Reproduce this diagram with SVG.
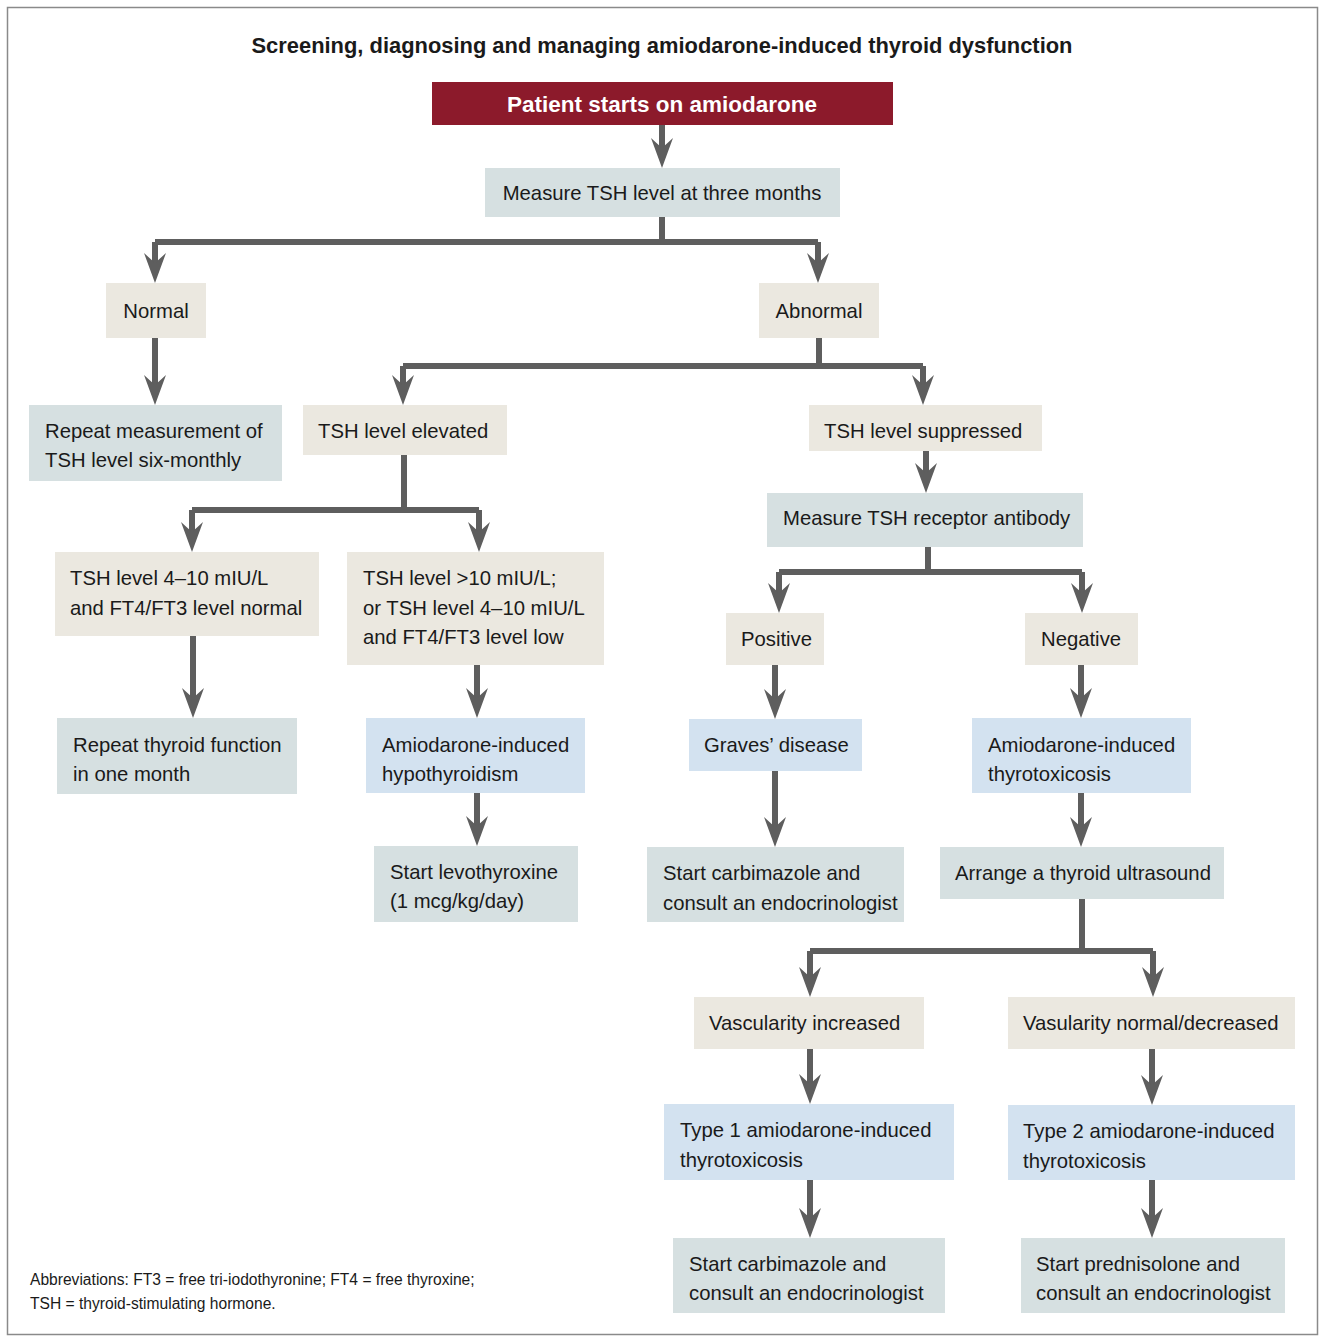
<svg xmlns="http://www.w3.org/2000/svg" width="1320" height="1336" viewBox="0 0 1320 1336">
<style>
text{font-family:"Liberation Sans",Arial,sans-serif;font-size:20.3px;fill:#1a1a1a}
.t{font-weight:bold;font-size:21.9px;text-anchor:middle}
.h{font-weight:bold;font-size:22.5px;fill:#fff;text-anchor:middle}
.c{text-anchor:middle}
.fn{font-size:15.6px}
.b{fill:#ebe8e0}
.g{fill:#d6e0e1}
.l{fill:#d3e2f0}
.r{fill:#8c1a2b}
.w{fill:none;stroke:#5e5e5e;stroke-width:6;marker-end:url(#ah)}
.n{fill:none;stroke:#5e5e5e;stroke-width:6}
</style>
<defs>
<marker id="ah" viewBox="0 0 30 22" refX="12" refY="11" markerWidth="30" markerHeight="22" markerUnits="userSpaceOnUse" orient="auto">
<path d="M0,0 L30,11 L0,22 L10,11 Z" fill="#5e5e5e"/>
</marker>
</defs>
<rect x="7.5" y="7.5" width="1310" height="1327" fill="#fff" stroke="#8a8a8a" stroke-width="1.5"/>
<text class="t" x="662" y="53">Screening, diagnosing and managing amiodarone-induced thyroid dysfunction</text>

<g id="connectors">
<path class="w" d="M662,125 V150"/>
<path class="n" d="M662,217 V242"/>
<path class="w" d="M155,242 H818 M155,242 V265"/>
<path class="w" d="M818,242 V265"/>
<path class="w" d="M155,338 V387"/>
<path class="n" d="M819,338 V366"/>
<path class="w" d="M403,366 H923 M403,366 V387"/>
<path class="w" d="M923,366 V387"/>
<path class="n" d="M404,455 V510"/>
<path class="w" d="M192,510 H479 M192,510 V534"/>
<path class="w" d="M479,510 V534"/>
<path class="w" d="M926,451 V475"/>
<path class="n" d="M928,547 V572"/>
<path class="w" d="M779,572 H1082 M779,572 V595"/>
<path class="w" d="M1082,572 V595"/>
<path class="w" d="M193,636 V700"/>
<path class="w" d="M477,665 V700"/>
<path class="w" d="M477,793 V828"/>
<path class="w" d="M775,665 V701"/>
<path class="w" d="M775,771 V829"/>
<path class="w" d="M1081,665 V700"/>
<path class="w" d="M1081,793 V829"/>
<path class="n" d="M1082,899 V951"/>
<path class="w" d="M810,951 H1153 M810,951 V979"/>
<path class="w" d="M1153,951 V979"/>
<path class="w" d="M810,1049 V1086"/>
<path class="w" d="M1152,1049 V1087"/>
<path class="w" d="M810,1180 V1220"/>
<path class="w" d="M1152,1180 V1220"/>
</g>

<g id="n-start"><rect class="r" x="432" y="82" width="461" height="43"/><text class="h" x="662" y="112">Patient starts on amiodarone</text></g>
<g id="n-measure3"><rect class="g" x="485" y="168" width="355" height="49"/><text class="c" x="662" y="200">Measure TSH level at three months</text></g>
<g id="n-normal"><rect class="b" x="106" y="283" width="100" height="55"/><text class="c" x="156" y="318">Normal</text></g>
<g id="n-abnormal"><rect class="b" x="759" y="283" width="120" height="55"/><text class="c" x="819" y="318">Abnormal</text></g>
<g id="n-repeat6"><rect class="g" x="29" y="405" width="253" height="76"/><text x="45" y="438">Repeat measurement of</text><text x="45" y="467">TSH level six-monthly</text></g>
<g id="n-elevated"><rect class="b" x="303" y="405" width="204" height="50"/><text x="318" y="438">TSH level elevated</text></g>
<g id="n-suppressed"><rect class="b" x="809" y="405" width="233" height="46"/><text x="824" y="438">TSH level suppressed</text></g>
<g id="n-antibody"><rect class="g" x="767" y="493" width="316" height="54"/><text x="783" y="525">Measure TSH receptor antibody</text></g>
<g id="n-tsh410"><rect class="b" x="55" y="552" width="264" height="84"/><text x="70" y="585">TSH level 4–10 mIU/L</text><text x="70" y="615">and FT4/FT3 level normal</text></g>
<g id="n-tsh10"><rect class="b" x="347" y="552" width="257" height="113"/><text x="363" y="585">TSH level &gt;10 mIU/L;</text><text x="363" y="615">or TSH level 4–10 mIU/L</text><text x="363" y="644">and FT4/FT3 level low</text></g>
<g id="n-positive"><rect class="b" x="726" y="613" width="98" height="52"/><text x="741" y="646">Positive</text></g>
<g id="n-negative"><rect class="b" x="1025" y="613" width="113" height="52"/><text x="1041" y="646">Negative</text></g>
<g id="n-repeat1"><rect class="g" x="57" y="718" width="240" height="76"/><text x="73" y="752">Repeat thyroid function</text><text x="73" y="781">in one month</text></g>
<g id="n-hypo"><rect class="l" x="366" y="718" width="219" height="75"/><text x="382" y="752">Amiodarone-induced</text><text x="382" y="781">hypothyroidism</text></g>
<g id="n-graves"><rect class="l" x="689" y="719" width="173" height="52"/><text x="704" y="752">Graves’ disease</text></g>
<g id="n-thyrotox"><rect class="l" x="972" y="718" width="219" height="75"/><text x="988" y="752">Amiodarone-induced</text><text x="988" y="781">thyrotoxicosis</text></g>
<g id="n-levo"><rect class="g" x="374" y="846" width="204" height="76"/><text x="390" y="879">Start levothyroxine</text><text x="390" y="908">(1 mcg/kg/day)</text></g>
<g id="n-carbi1"><rect class="g" x="647" y="847" width="257" height="75"/><text x="663" y="880">Start carbimazole and</text><text x="663" y="910">consult an endocrinologist</text></g>
<g id="n-ultra"><rect class="g" x="940" y="847" width="284" height="52"/><text x="955" y="880">Arrange a thyroid ultrasound</text></g>
<g id="n-vascinc"><rect class="b" x="694" y="997" width="230" height="52"/><text x="709" y="1030">Vascularity increased</text></g>
<g id="n-vascnorm"><rect class="b" x="1008" y="997" width="287" height="52"/><text x="1023" y="1030">Vasularity normal/decreased</text></g>
<g id="n-type1"><rect class="l" x="664" y="1104" width="290" height="76"/><text x="680" y="1137">Type 1 amiodarone-induced</text><text x="680" y="1167">thyrotoxicosis</text></g>
<g id="n-type2"><rect class="l" x="1008" y="1105" width="287" height="75"/><text x="1023" y="1138">Type 2 amiodarone-induced</text><text x="1023" y="1168">thyrotoxicosis</text></g>
<g id="n-carbi2"><rect class="g" x="673" y="1238" width="272" height="75"/><text x="689" y="1271">Start carbimazole and</text><text x="689" y="1300">consult an endocrinologist</text></g>
<g id="n-pred"><rect class="g" x="1021" y="1238" width="264" height="75"/><text x="1036" y="1271">Start prednisolone and</text><text x="1036" y="1300">consult an endocrinologist</text></g>

<text class="fn" x="30" y="1285">Abbreviations: FT3 = free tri-iodothyronine; FT4 = free thyroxine;</text>
<text class="fn" x="30" y="1309">TSH = thyroid-stimulating hormone.</text>
</svg>
